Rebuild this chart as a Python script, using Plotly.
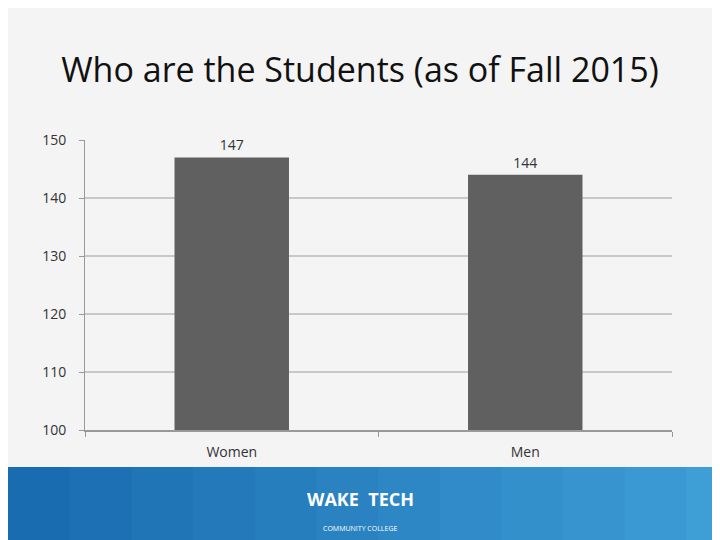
import plotly.graph_objects as go

categories = ["Women", "Men"]
students = [147, 144]
y_ticks = [100, 110, 120, 130, 140, 150]

fig = go.Figure()
fig.add_trace(go.Bar(
    x=categories, y=students, width=0.39,
    marker=dict(color="#606060", line=dict(width=0)),
    text=[str(v) for v in students], textposition="outside",
    textfont=dict(family="Open Sans", size=14, color="#333333"),
    cliponaxis=False,
))

# page is offset by the browser's 8px body margin, so margins are shifted
ph = 290.0
pw = 587.0
shapes = []
steps = 12
for i in range(steps):
    c0 = (26, 108, 176)
    c1 = (62, 158, 214)
    t = i / (steps - 1)
    col = "rgb(%d,%d,%d)" % tuple(int(a + (b - a) * t) for a, b in zip(c0, c1))
    x0 = -77 / pw + (740 / pw) * i / steps
    x1 = -77 / pw + (740 / pw) * (i + 1) / steps
    shapes.append(dict(type="rect", xref="paper", yref="paper",
                       x0=x0, x1=x1 + 0.002, y0=-37 / ph, y1=-130 / ph,
                       fillcolor=col, line=dict(width=0), layer="below"))

fig.update_layout(
    width=720, height=540,
    margin=dict(l=77, r=56, t=132, b=118),
    paper_bgcolor="#f4f4f5", plot_bgcolor="rgba(0,0,0,0)",
    showlegend=False,
    shapes=shapes,
    title=dict(text="Who are the Students (as of Fall 2015)", x=(360 - 8) / 720, xanchor="center",
               y=1 - (70 - 8) / 540, yanchor="middle",
               font=dict(family="Open Sans", size=34, color="#111111")),
    font=dict(family="Open Sans", size=14, color="#333333"),
    annotations=[
        dict(text="<b>WAKE</b>  <b>TECH</b>", xref="paper", yref="paper", x=(360 - 85) / pw,
             y=-83 / ph, showarrow=False, font=dict(family="Open Sans", size=18, color="white")),
        dict(text="COMMUNITY COLLEGE", xref="paper", yref="paper", x=(360 - 85) / pw,
             y=-105 / ph, showarrow=False, font=dict(family="Open Sans", size=7, color="white")),
    ],
)
fig.update_yaxes(range=[100, 150], tickvals=y_ticks, showgrid=True, gridcolor="#c8c8c8",
                 gridwidth=1.5, ticks="outside", ticklen=5, tickcolor="#999999",
                 ticklabelstandoff=10,
                 showline=True, linecolor="#999999", zeroline=False,
                 tickfont=dict(size=14, color="#333333"))
fig.update_xaxes(showline=True, linecolor="#999999", linewidth=1.5,
                 ticks="outside", tickson="boundaries", ticklen=5, tickcolor="#999999",
                 ticklabelstandoff=8, tickfont=dict(size=14, color="#333333"))

fig.write_html("out.html")
